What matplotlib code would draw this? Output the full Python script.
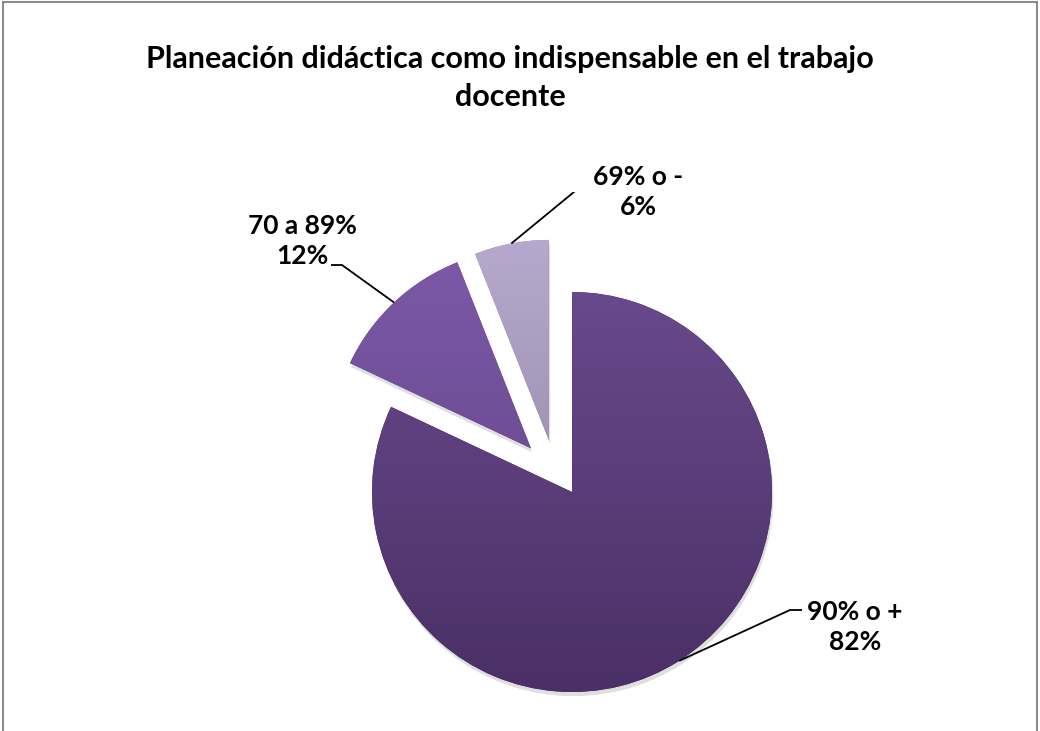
import numpy as np
import matplotlib
matplotlib.use("Agg")
import matplotlib.pyplot as plt
from matplotlib.colors import LinearSegmentedColormap
from matplotlib.lines import Line2D
import matplotlib.patheffects as pe

# data
categories = ["90% o +", "70 a 89%", "69% o -"]
shares = [82, 12, 6]
explode = [0, 0.3, 0.3]

# gradient colours (top, bottom) per slice
grad_colors = [("#68498b", "#4a3066"), ("#7d59a8", "#5f4384"), ("#b7a9cd", "#8d7f9d")]

# label block centres and elbow points (axes data coords, radius 1 = pie)
label_pos = [(1.415, -0.675), (-1.35, 1.255), (0.33, 1.50)]
elbow = [((1.09, -0.59), (1.15, -0.59)),
         ((-1.15, 1.135), (-1.205, 1.135)),
         ((0.095, 1.57), (0.035, 1.57))]

plt.rcParams["font.family"] = ["Lato", "DejaVu Sans"]

fig = plt.figure(figsize=(10.4, 7.31), dpi=100)
# pie centre at (572, 492) px, radius 200 px
ax = fig.add_axes([(572 - 300) / 1040, (239 - 300) / 731, 600 / 1040, 600 / 731])

wedges, _ = ax.pie(shares, explode=explode, startangle=90, counterclock=False,
                   radius=1.0, wedgeprops=dict(linewidth=0))

# the small slice sits a bit further left in the original
ang = np.deg2rad(114)
wedges[2].set_center((0.285 * np.cos(ang), 0.285 * np.sin(ang)))

grad = np.linspace(1, 0, 256).reshape(-1, 1)
for w, (ctop, cbot) in zip(wedges, grad_colors):
    w.set_facecolor(cbot)
    w.set_path_effects([pe.SimplePatchShadow(offset=(1, -3), shadow_rgbFace="#808080", alpha=0.25),
                        pe.Normal()])
    cx, cy = w.center
    r = w.r
    cmap = LinearSegmentedColormap.from_list("g", [cbot, ctop])
    im = ax.imshow(grad, extent=[cx - r, cx + r, cy - r, cy + r], cmap=cmap,
                   aspect="auto", origin="upper", zorder=w.get_zorder() + 0.1,
                   interpolation="bilinear")
    im.set_clip_path(w)

# labels with leader lines
for w, cat, val, (tx, ty), (e1, e2) in zip(wedges, categories, shares, label_pos, elbow):
    mid = np.deg2rad((w.theta1 + w.theta2) / 2)
    cx, cy = w.center
    ax_x, ax_y = cx + w.r * np.cos(mid), cy + w.r * np.sin(mid)
    ax.plot([ax_x, e1[0], e2[0]], [ax_y, e1[1], e2[1]], color="black", lw=1.3,
            solid_capstyle="butt", zorder=5)
    ax.text(tx, ty, f"{cat}\n{val}%", ha="center", va="center", fontsize=19,
            fontweight="bold", linespacing=1.3, zorder=6)

ax.set_xlim(-1.5, 1.5)
ax.set_ylim(-1.5, 1.5)
ax.axis("off")

fig.text(510 / 1040, 1 - 78 / 731,
         "Planeación didáctica como indispensable en el trabajo\ndocente",
         ha="center", va="center", fontsize=22, fontweight="bold", linespacing=1.4)

# chart frame (bottom edge is cropped in the original)
for xs, ys in [([3 / 1040, 3 / 1040], [0, 1 - 2 / 731]),
               ([3 / 1040, 1037 / 1040], [1 - 2 / 731, 1 - 2 / 731]),
               ([1037 / 1040, 1037 / 1040], [1 - 2 / 731, 0])]:
    fig.add_artist(Line2D(xs, ys, color="#8c8c8c", lw=1.5))

fig.savefig("out.png", dpi=100)
